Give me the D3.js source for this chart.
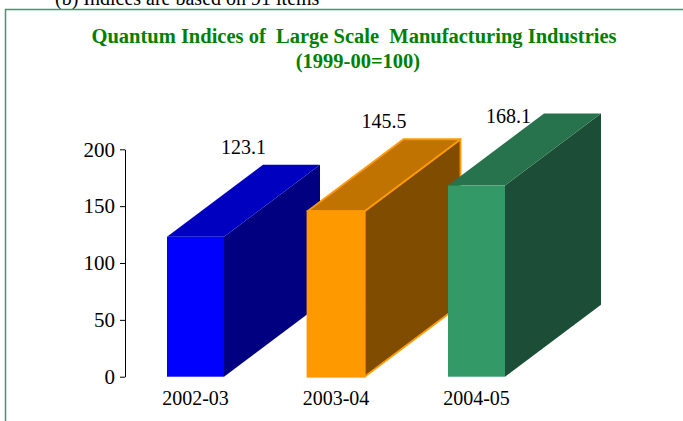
<!DOCTYPE html>
<html>
<head>
<meta charset="utf-8">
<script src="https://cdn.jsdelivr.net/npm/d3@7"></script>
<style>
  body { margin: 0; background: #fff; }
  svg { display: block; font-family: "Liberation Serif", "Times New Roman", serif; }
</style>
</head>
<body>
<svg id="chart"></svg>
<script>
// chart data
const years = ["2002-03", "2003-04", "2004-05"];
const indices = [123.1, 145.5, 168.1];
const yTicks = [0, 50, 100, 150, 200];
const frontColors = ["#0000ff", "#ff9900", "#339966"];
const topColors = ["#0000c0", "#c07300", "#26734d"];
const sideColors = ["#000080", "#804d00", "#1c4d36"];
const strokeColors = ["none", "#ff9900", "none"];

const width = 683;
const height = 421;
const depthX = 96;
const depthY = 72;
const barWidth = 57;

const svg = d3.select("#chart").attr("width", width).attr("height", height);

// frame + the note above it (cut off by the page top, as in the original)
svg.append("text")
  .attr("x", 55)
  .attr("y", 5)
  .attr("font-size", 20)
  .attr("fill", "#000")
  .text("(b) Indices are based on 91 items");

svg.append("path")
  .attr("d", `M5.5,${height} V9.5 H${width}`)
  .attr("fill", "none")
  .attr("stroke", "#3d9970")
  .attr("stroke-width", 1.5);

// title
svg.append("text")
  .attr("x", 354)
  .attr("y", 43)
  .attr("text-anchor", "middle")
  .attr("font-size", 20.5)
  .attr("font-weight", "bold")
  .attr("fill", "#008000")
  .attr("xml:space", "preserve")
  .text("Quantum Indices of  Large Scale  Manufacturing Industries");

svg.append("text")
  .attr("x", 358)
  .attr("y", 68)
  .attr("text-anchor", "middle")
  .attr("font-size", 20.5)
  .attr("font-weight", "bold")
  .attr("fill", "#008000")
  .text("(1999-00=100)");

// scales
const yScale = d3.scaleLinear().domain([0, 200]).range([376.7, 149.3]);
const xScale = d3.scalePoint().domain(years).range([195.5, 476.5]);

// y axis
const yAxis = svg.append("g")
  .attr("transform", "translate(125,0)")
  .call(d3.axisLeft(yScale).tickValues(yTicks).tickSize(5).tickSizeOuter(0).tickPadding(5));
yAxis.select(".domain").attr("stroke", "#000");
yAxis.selectAll("text").attr("font-size", 21).attr("font-family", "Liberation Serif").attr("fill", "#000");

// x labels (no axis line in the original)
svg.selectAll(".xlabel")
  .data(years)
  .enter()
  .append("text")
  .attr("class", "xlabel")
  .attr("x", (d) => xScale(d))
  .attr("y", 405)
  .attr("text-anchor", "middle")
  .attr("font-size", 20)
  .text((d) => d);

// 3d bars
const bars = svg.selectAll(".bar")
  .data(years.map((y, i) => ({ year: y, value: indices[i], i: i })))
  .enter()
  .append("g")
  .attr("class", "bar");

bars.each(function (d) {
  const g = d3.select(this);
  const x0 = xScale(d.year) - barWidth / 2;
  const x1 = x0 + barWidth;
  const yTop = yScale(d.value);
  const yBot = yScale(0);
  const stroke = strokeColors[d.i];
  const sw = stroke === "none" ? 0 : 1.8;

  // side face
  g.append("path")
    .attr("d", `M${x1},${yBot} L${x1 + depthX},${yBot - depthY} L${x1 + depthX},${yTop - depthY} L${x1},${yTop} Z`)
    .attr("fill", sideColors[d.i])
    .attr("stroke", stroke)
    .attr("stroke-width", sw)
    .attr("stroke-linejoin", "round");
  // top face
  g.append("path")
    .attr("d", `M${x0},${yTop} L${x0 + depthX},${yTop - depthY} L${x1 + depthX},${yTop - depthY} L${x1},${yTop} Z`)
    .attr("fill", topColors[d.i])
    .attr("stroke", stroke)
    .attr("stroke-width", sw)
    .attr("stroke-linejoin", "round");
  // front face
  g.append("rect")
    .attr("x", x0)
    .attr("y", yTop)
    .attr("width", barWidth)
    .attr("height", yBot - yTop)
    .attr("fill", frontColors[d.i])
    .attr("stroke", stroke)
    .attr("stroke-width", sw);
});

// value labels, above the top face, kept inside the plot area
const labelMinY = 123.3;
bars.append("text")
  .attr("x", function (d) {
    const y = yScale(d.value) - depthY - 11;
    return xScale(d.year) + depthX / 2 - (y < labelMinY ? 16 : 0);
  })
  .attr("y", (d) => Math.max(yScale(d.value) - depthY - 11, labelMinY))
  .attr("text-anchor", "middle")
  .attr("font-size", 20)
  .attr("fill", "#000")
  .text((d) => d.value.toFixed(1));
</script>
</body>
</html>
